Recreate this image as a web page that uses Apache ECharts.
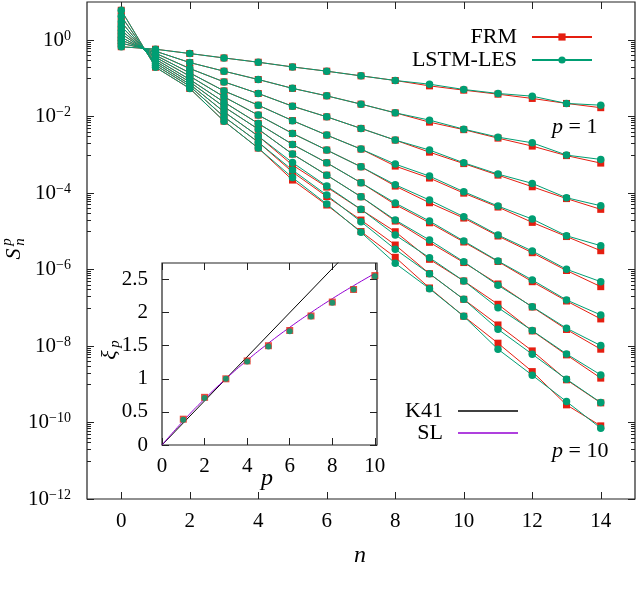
<!DOCTYPE html>
<html>
<head>
<meta charset="utf-8">
<script src="https://cdn.jsdelivr.net/npm/echarts@6/dist/echarts.min.js"></script>
<style>
html,body{margin:0;padding:0;background:#fff;}
#chart{width:640px;height:593px;}
</style>
</head>
<body>
<div id="chart"></div>
<script>
// ---------- data ----------
const nValues = [0,1,2,3,4,5,6,7,8,9,10,11,12,13,14];
const pValues = [1,2,3,4,5,6,7,8,9,10];

const frmValues = [
  [0.676,0.582,0.449,0.344,0.266,0.200,0.155,0.117,0.0885,0.0640,0.0494,0.0388,0.0300,0.0222,0.0172],
  [0.835,0.516,0.261,0.155,0.0940,0.0551,0.0351,0.0213,0.0126,0.00720,0.00458,0.00275,0.00170,0.000959,0.000611],
  [1.0,0.457,0.182,0.0813,0.0405,0.0188,0.00991,0.00493,0.00244,0.00118,0.000593,0.000296,0.000147,0.0000721,0.0000377],
  [1.197,0.405,0.140,0.0473,0.0200,0.00789,0.00330,0.00142,0.000510,0.000248,0.000100,0.0000433,0.0000172,0.00000733,0.00000312],
  [1.479,0.360,0.115,0.0330,0.0110,0.00365,0.00134,0.000489,0.000153,0.0000561,0.0000223,0.00000757,0.00000277,9.48e-7,3.58e-7],
  [1.824,0.319,0.0940,0.0240,0.00665,0.00188,0.000622,0.000187,0.0000503,0.0000168,0.00000527,0.00000163,4.83e-7,1.51e-7,5.13e-8],
  [2.32,0.282,0.0813,0.0181,0.00472,0.00105,0.000296,0.0000804,0.0000186,0.00000518,0.00000153,4.21e-7,1.05e-7,2.72e-8,8.28e-9],
  [3.04,0.251,0.0708,0.0134,0.00310,0.000542,0.000144,0.0000372,0.00000980,0.00000186,5.05e-7,1.24e-7,2.49e-8,5.88e-9,1.45e-9],
  [4.24,0.222,0.0628,0.00991,0.00216,0.000356,0.0000815,0.0000198,0.00000440,7.82e-7,1.67e-7,3.57e-8,7.48e-9,1.31e-9,3.27e-10],
  [6.08,0.197,0.0547,0.00764,0.00151,0.000220,0.0000489,0.00000991,0.00000210,3.31e-7,6.03e-8,1.19e-8,2.15e-9,2.90e-10,8.19e-11]
];

const lstmValues = [
  [0.676,0.582,0.449,0.344,0.266,0.200,0.155,0.117,0.0885,0.0708,0.0515,0.0405,0.0344,0.0222,0.0200],
  [0.835,0.516,0.261,0.155,0.0940,0.0551,0.0351,0.0213,0.0126,0.00813,0.00472,0.00292,0.00207,0.000989,0.000762],
  [1.0,0.457,0.182,0.0813,0.0405,0.0188,0.00991,0.00493,0.00244,0.00134,0.000622,0.000315,0.000180,0.0000759,0.0000468],
  [1.197,0.405,0.140,0.0473,0.0200,0.00789,0.00330,0.00142,0.000575,0.000279,0.000109,0.0000459,0.0000210,0.00000769,0.00000422],
  [1.479,0.360,0.115,0.0330,0.0110,0.00365,0.00134,0.000489,0.000166,0.0000659,0.0000242,0.00000804,0.00000307,0.00000102,4.83e-7],
  [1.824,0.319,0.0940,0.0240,0.00665,0.00188,0.000622,0.000187,0.0000551,0.0000186,0.00000560,0.00000168,5.36e-7,1.61e-7,6.52e-8],
  [2.32,0.282,0.0813,0.0181,0.00472,0.00105,0.000296,0.0000804,0.0000198,0.00000594,0.00000161,3.89e-7,1.07e-7,2.93e-8,1.03e-8],
  [3.04,0.251,0.0708,0.0134,0.00310,0.000630,0.000153,0.0000377,0.00000804,0.00000205,5.05e-7,1.01e-7,2.54e-8,6.24e-9,1.76e-9],
  [4.24,0.222,0.0628,0.00991,0.00216,0.000401,0.0000891,0.0000179,0.00000340,7.82e-7,1.67e-7,2.75e-8,6.12e-9,1.36e-9,3.33e-10],
  [6.08,0.197,0.0547,0.00764,0.00151,0.000255,0.0000519,0.00000944,0.00000146,3.17e-7,6.03e-8,8.28e-9,1.73e-9,3.54e-10,7.13e-11]
];

// inset: scaling exponents
const xiFRM  = [0.39,0.72,1.00,1.27,1.50,1.73,1.95,2.16,2.35,2.56];
const xiLSTM = [0.38,0.71,1.00,1.26,1.49,1.72,1.94,2.15,2.35,2.55];
const slP    = [0,1,2,3,4,5,6,7,8,9,10];
const slXi   = [0,0.364,0.696,1.0,1.280,1.538,1.778,2.001,2.211,2.407,2.593];
const k41P   = [0,10];
const k41Xi  = [0,3.333];

// tick labels
const xTicks = [0,2,4,6,8,10,12,14];
const yMajorExp = [0,-2,-4,-6,-8,-10,-12];
const insetXTicks = [0,2,4,6,8,10];
const insetYTicks = [0,0.5,1,1.5,2,2.5];

// ---------- styling ----------
const RED = '#e51e10';
const GREEN = '#009e73';
const PURPLE = '#9400d3';
const FONT = 'Liberation Serif';

const yMajor = yMajorExp.map(e => Math.pow(10, e));
const yMinor = [];
[0,-2,-4,-6,-8,-10].forEach(k => {
  for (let m = 1; m <= 9; m++) yMinor.push(m * Math.pow(10, k - 1));
});

const chart = echarts.init(document.getElementById('chart'), null, {renderer: 'canvas'});

function supLabel(v) {
  const e = Math.round(Math.log10(v));
  const s = e < 0 ? '\u2212' + Math.abs(e) : String(e);
  return '{b|10}{s|' + s + '}';
}

const hideLine = {show: false, onZero: false};
const frameColor = '#222';

const xAxes = [
  {gridIndex: 0, type: 'value', position: 'bottom', min: -1, max: 15,
   axisLine: hideLine, splitLine: {show: false},
   axisTick: {show: true, inside: true, length: 7, customValues: xTicks, lineStyle: {color: frameColor}},
   axisLabel: {customValues: xTicks, fontSize: 21, fontFamily: FONT, color: '#000', margin: 12}},
  {gridIndex: 0, type: 'value', position: 'top', min: -1, max: 15,
   axisLine: hideLine, splitLine: {show: false},
   axisTick: {show: true, inside: true, length: 7, customValues: xTicks, lineStyle: {color: frameColor}},
   axisLabel: {show: false}},
  {gridIndex: 1, type: 'value', position: 'bottom', min: 0, max: 10.1,
   axisLine: hideLine, splitLine: {show: false},
   axisTick: {show: true, inside: true, length: 7, customValues: insetXTicks, lineStyle: {color: frameColor}},
   axisLabel: {customValues: insetXTicks, fontSize: 21, fontFamily: FONT, color: '#000', margin: 11}},
  {gridIndex: 1, type: 'value', position: 'top', min: 0, max: 10.1,
   axisLine: hideLine, splitLine: {show: false},
   axisTick: {show: true, inside: true, length: 7, customValues: insetXTicks, lineStyle: {color: frameColor}},
   axisLabel: {show: false}}
];

function logAxis(pos, ticks, len, labels) {
  return {gridIndex: 0, type: 'log', logBase: 10, position: pos, min: 1e-12, max: 10,
    axisLine: hideLine, splitLine: {show: false}, minorTick: {show: false},
    axisTick: {show: true, inside: true, length: len, customValues: ticks, lineStyle: {color: frameColor}},
    axisLabel: labels ? {customValues: yMajor, formatter: supLabel, margin: 16, color: '#000',
      fontFamily: FONT, fontSize: 21,
      rich: {b: {fontSize: 21, lineHeight: 22, fontFamily: FONT, color: '#000'},
             s: {fontSize: 14, lineHeight: 10, verticalAlign: 'top', fontFamily: FONT, color: '#000'}}}
      : {show: false}};
}

const yAxes = [
  logAxis('left', yMajor, 7, true),
  logAxis('left', yMinor, 4, false),
  logAxis('right', yMajor, 7, false),
  logAxis('right', yMinor, 4, false),
  {gridIndex: 1, type: 'value', position: 'left', min: 0, max: 2.75,
   axisLine: hideLine, splitLine: {show: false},
   axisTick: {show: true, inside: true, length: 7, customValues: insetYTicks, lineStyle: {color: frameColor}},
   axisLabel: {customValues: insetYTicks, fontSize: 21, fontFamily: FONT, color: '#000', margin: 14,
     formatter: v => String(v)}},
  {gridIndex: 1, type: 'value', position: 'right', min: 0, max: 2.75,
   axisLine: hideLine, splitLine: {show: false},
   axisTick: {show: true, inside: true, length: 7, customValues: insetYTicks, lineStyle: {color: frameColor}},
   axisLabel: {show: false}}
];

const series = [];
pValues.forEach((p, i) => {
  series.push({
    name: 'FRM', type: 'line', xAxisIndex: 0, yAxisIndex: 0,
    data: nValues.map((n, j) => [n, frmValues[i][j]]),
    symbol: 'rect', symbolSize: 7, showSymbol: true,
    lineStyle: {color: RED, width: 1}, itemStyle: {color: RED},
    z: 3, animation: false
  });
});
pValues.forEach((p, i) => {
  series.push({
    name: 'LSTM-LES', type: 'line', xAxisIndex: 0, yAxisIndex: 0,
    data: nValues.map((n, j) => [n, lstmValues[i][j]]),
    symbol: 'circle', symbolSize: 7.5, showSymbol: true,
    lineStyle: {color: GREEN, width: 1}, itemStyle: {color: GREEN},
    z: 4, animation: false
  });
});
// inset
series.push({
  name: 'K41', type: 'line', xAxisIndex: 2, yAxisIndex: 4,
  data: k41P.map((p, i) => [p, k41Xi[i]]), symbol: 'none',
  lineStyle: {color: '#000', width: 1}, itemStyle: {color: '#000'}, z: 5, animation: false
});
series.push({
  name: 'SL', type: 'line', xAxisIndex: 2, yAxisIndex: 4, smooth: true,
  data: slP.map((p, i) => [p, slXi[i]]), symbol: 'none',
  lineStyle: {color: PURPLE, width: 1}, itemStyle: {color: PURPLE}, z: 5, animation: false
});
series.push({
  name: 'FRM', type: 'scatter', xAxisIndex: 2, yAxisIndex: 4,
  data: pValues.map((p, i) => [p, xiFRM[i]]), symbol: 'rect', symbolSize: 7,
  itemStyle: {color: RED}, z: 6, animation: false
});
series.push({
  name: 'LSTM-LES', type: 'scatter', xAxisIndex: 2, yAxisIndex: 4,
  data: pValues.map((p, i) => [p, xiLSTM[i]]), symbol: 'circle', symbolSize: 6,
  itemStyle: {color: GREEN, opacity: 0.85}, z: 7, animation: false
});

const txt = (x, y, text, size, extra) => ({
  type: 'text', x: x, y: y,
  style: Object.assign({text: text, fontSize: size, fontFamily: FONT, fill: '#000',
    align: 'center', verticalAlign: 'middle'}, extra || {})
});

const legendText = {fontSize: 22, fontFamily: FONT, color: '#000', lineHeight: 22, padding: [0, 10, 0, 0]};

const option = {
  animation: false,
  backgroundColor: '#fff',
  textStyle: {fontFamily: FONT},
  grid: [
    {left: 87, right: 5, top: 2, bottom: 94, show: true, borderColor: frameColor, borderWidth: 1.2, backgroundColor: 'transparent'},
    {left: 162, right: 263, top: 263, bottom: 148, show: true, borderColor: frameColor, borderWidth: 1.2, backgroundColor: '#fff'}
  ],
  xAxis: xAxes,
  yAxis: yAxes,
  legend: [
    {data: ['FRM', 'LSTM-LES'], orient: 'vertical', align: 'right', right: 47, top: 26, padding: 0,
     itemWidth: 60, itemHeight: 9, itemGap: 1, selectedMode: false, textStyle: legendText},
    {data: [{name: 'K41', icon: 'rect'}, {name: 'SL', icon: 'rect'}], orient: 'vertical', align: 'right', right: 122, top: 400, padding: 0,
     itemWidth: 60, itemHeight: 1.3, itemGap: 0, selectedMode: false, textStyle: legendText}
  ],
  graphic: [
    {type: 'text', x: 552, y: 127, style: {text: '{i|p}{r| = 1}', fontFamily: FONT, fontSize: 22, fill: '#000', verticalAlign: 'middle',
      rich: {i: {fontStyle: 'italic', fontSize: 22, fontFamily: FONT}, r: {fontSize: 22, fontFamily: FONT}}}},
    {type: 'text', x: 552, y: 451, style: {text: '{i|p}{r| = 10}', fontFamily: FONT, fontSize: 22, fill: '#000', verticalAlign: 'middle',
      rich: {i: {fontStyle: 'italic', fontSize: 22, fontFamily: FONT}, r: {fontSize: 22, fontFamily: FONT}}}},
    txt(360, 556, 'n', 24, {fontStyle: 'italic'}),
    txt(267, 479, 'p', 24, {fontStyle: 'italic'}),
    {type: 'group', x: 14, y: 250, rotation: Math.PI / 2, children: [
      txt(-4, 0, 'S', 22, {fontStyle: 'italic'}),
      txt(8, -7, 'p', 15, {fontStyle: 'italic'}),
      txt(8, 6, 'n', 15, {fontStyle: 'italic'})
    ]},
    {type: 'group', x: 110, y: 352, rotation: Math.PI / 2, children: [
      txt(-3, 0, '\u03be', 22, {fontStyle: 'italic'}),
      txt(8, 5, 'p', 15, {fontStyle: 'italic'})
    ]}
  ],
  series: series
};

chart.setOption(option);
</script>
</body>
</html>
